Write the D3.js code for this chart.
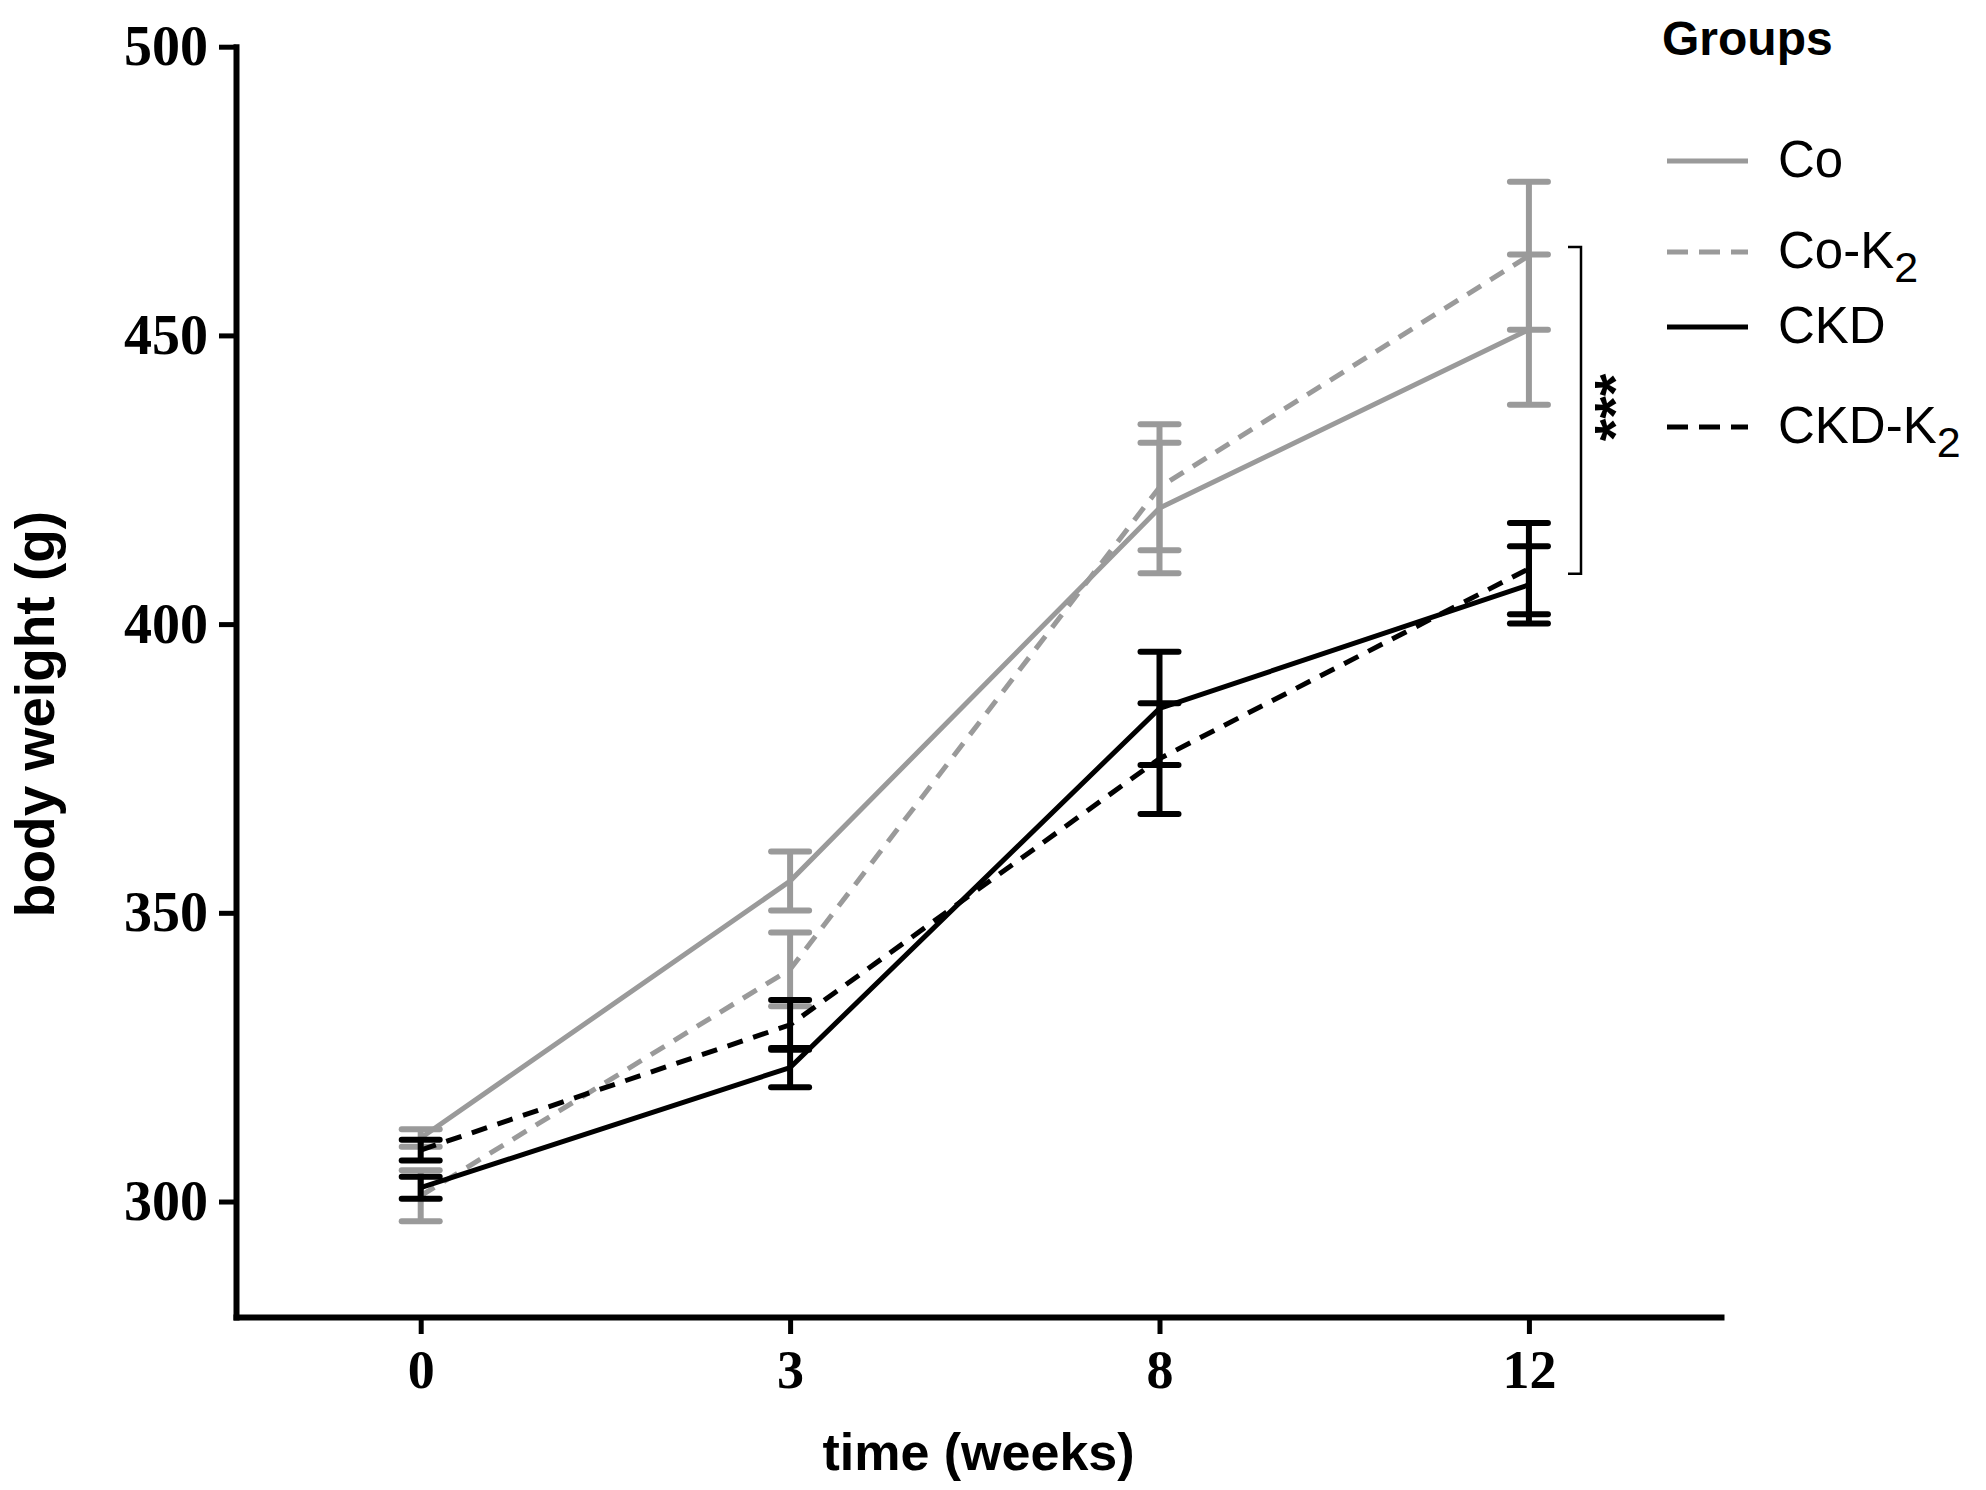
<!DOCTYPE html>
<html>
<head>
<meta charset="utf-8">
<script src="https://cdn.jsdelivr.net/npm/d3@7"></script>
<style>
    body { margin: 0; background: #fff; }
    svg { display: block; }
</style>
</head>
<body>
<div id="chart"></div>
<script>

// Data (body weight in g, mean and error)
var weeks = ["0", "3", "8", "12"];
var groupNames = ["Co", "Co-K2", "CKD", "CKD-K2"];

var coMean     = [311.0, 355.5, 420.1, 451.0];
var coErr      = [1.5, 5.1, 11.3, 13.0];
var coK2Mean   = [301.0, 340.2, 423.7, 463.8];
var coK2Err    = [4.4, 6.4, 10.9, 12.8];
var ckdMean    = [302.4, 323.2, 385.4, 406.8];
var ckdErr     = [1.9, 3.4, 9.8, 6.7];
var ckdK2Mean  = [308.9, 330.6, 376.7, 409.6];
var ckdK2Err   = [1.8, 4.3, 9.6, 7.9];

var yTicks = [300, 350, 400, 450, 500];
var sigBracket = [408.7, 465.3];
var sigLabel = "***";

// Chart settings
var width = 1986,
    height = 1490;

var gray = "#9a9a9a",
    black = "#000";

var series = [
    {name: groupNames[0], mean: coMean, err: coErr, color: gray, dash: null},
    {name: groupNames[1], mean: coK2Mean, err: coK2Err, color: gray, dash: "16,11"},
    {name: groupNames[2], mean: ckdMean, err: ckdErr, color: black, dash: null},
    {name: groupNames[3], mean: ckdK2Mean, err: ckdK2Err, color: black, dash: "16,11"}
];

var svg = d3.select("#chart").append("svg")
    .attr("width", width)
    .attr("height", height);

svg.append("rect")
    .attr("width", width)
    .attr("height", height)
    .attr("fill", "#fff");

// Scales
var x = d3.scaleLinear()
    .domain([-0.5, 3.52])
    .range([236, 1721]);

var y = d3.scaleLinear()
    .domain([280, 500])
    .range([1317, 46.7]);

// Axes
var yAxis = d3.axisLeft(y)
    .tickValues(yTicks)
    .tickSize(17)
    .tickSizeOuter(0)
    .tickPadding(11);

var xAxis = d3.axisBottom(x)
    .tickValues(d3.range(weeks.length))
    .tickFormat(function(i) { return weeks[i]; })
    .tickSize(17)
    .tickSizeOuter(0)
    .tickPadding(16);

var gy = svg.append("g")
    .attr("transform", "translate(" + x.range()[0] + ",0)")
    .call(yAxis);

var gx = svg.append("g")
    .attr("transform", "translate(0," + y.range()[0] + ")")
    .call(xAxis);

[gx, gy].forEach(function(g) {
    g.select(".domain")
        .attr("stroke", black)
        .attr("stroke-width", 6)
        .attr("stroke-linecap", "square");
    g.selectAll(".tick line")
        .attr("stroke", black)
        .attr("stroke-width", 5);
    g.selectAll(".tick text")
        .attr("fill", black)
        .style("font-family", "'Liberation Serif', 'Times New Roman', serif")
        .style("font-weight", "bold");
});

gy.selectAll(".tick text").style("font-size", "56px");
gx.selectAll(".tick text").style("font-size", "54px");

// Axis titles
svg.append("text")
    .attr("transform", "translate(54,714) rotate(-90)")
    .attr("text-anchor", "middle")
    .style("font-family", "'Liberation Sans', Arial, sans-serif")
    .style("font-weight", "bold")
    .style("font-size", "55px")
    .text("body weight (g)");

svg.append("text")
    .attr("x", (x.range()[0] + x.range()[1]) / 2)
    .attr("y", 1470)
    .attr("text-anchor", "middle")
    .style("font-family", "'Liberation Sans', Arial, sans-serif")
    .style("font-weight", "bold")
    .style("font-size", "52px")
    .text("time (weeks)");

// Lines and error bars
var line = d3.line()
    .x(function(d, i) { return x(i); })
    .y(function(d) { return y(d); });

var capHalf = 19;

series.forEach(function(s) {
    var g = svg.append("g").attr("class", "series");

    g.append("path")
        .datum(s.mean)
        .attr("d", line)
        .attr("fill", "none")
        .attr("stroke", s.color)
        .attr("stroke-width", 5)
        .attr("stroke-dasharray", s.dash);

    var bars = g.selectAll(".err")
        .data(s.mean.map(function(m, i) { return {i: i, lo: m - s.err[i], hi: m + s.err[i]}; }))
        .enter().append("g")
        .attr("class", "err");

    bars.append("line")
        .attr("x1", function(d) { return x(d.i); })
        .attr("x2", function(d) { return x(d.i); })
        .attr("y1", function(d) { return y(d.lo); })
        .attr("y2", function(d) { return y(d.hi); })
        .attr("stroke", s.color)
        .attr("stroke-width", 6);

    ["lo", "hi"].forEach(function(k) {
        bars.append("line")
            .attr("x1", function(d) { return x(d.i) - capHalf; })
            .attr("x2", function(d) { return x(d.i) + capHalf; })
            .attr("y1", function(d) { return y(d[k]); })
            .attr("y2", function(d) { return y(d[k]); })
            .attr("stroke", s.color)
            .attr("stroke-width", 6)
            .attr("stroke-linecap", "round");
    });
});

// Significance bracket
var bx = 1581;
svg.append("path")
    .attr("d", "M" + (bx - 13) + "," + y(sigBracket[1]) + "H" + bx +
        "V" + y(sigBracket[0]) + "H" + (bx - 13))
    .attr("fill", "none")
    .attr("stroke", black)
    .attr("stroke-width", 2.5);

svg.append("text")
    .attr("transform", "translate(1635," + (y(d3.mean(sigBracket)) - 3) + ") rotate(-90)")
    .attr("text-anchor", "middle")
    .style("font-family", "'Liberation Sans', Arial, sans-serif")
    .style("font-weight", "bold")
    .style("font-size", "58px")
    .text(sigLabel);

// Legend
svg.append("text")
    .attr("x", 1662)
    .attr("y", 55)
    .style("font-family", "'Liberation Sans', Arial, sans-serif")
    .style("font-weight", "bold")
    .style("font-size", "48px")
    .text("Groups");

var legendY = [161, 252, 327, 427];

var legend = svg.selectAll(".legend")
    .data(series)
    .enter().append("g")
    .attr("class", "legend")
    .attr("transform", function(d, i) { return "translate(1667," + legendY[i] + ")"; });

legend.append("line")
    .attr("x1", 0)
    .attr("x2", 81)
    .attr("stroke", function(d) { return d.color; })
    .attr("stroke-width", 5)
    .attr("stroke-dasharray", function(d) { return d.dash ? "21,11" : null; });

var legendText = legend.append("text")
    .attr("x", 111)
    .attr("y", 16)
    .style("font-family", "'Liberation Sans', Arial, sans-serif")
    .style("font-size", "51px");

legendText.each(function(d) {
    var t = d3.select(this);
    var parts = d.name.split("K2");
    if (parts.length > 1) {
        t.append("tspan").text(parts[0] + "K");
        t.append("tspan")
            .attr("dy", 14)
            .style("font-size", "43px")
            .text("2");
    } else {
        t.text(d.name);
    }
});

</script>
</body>
</html>
